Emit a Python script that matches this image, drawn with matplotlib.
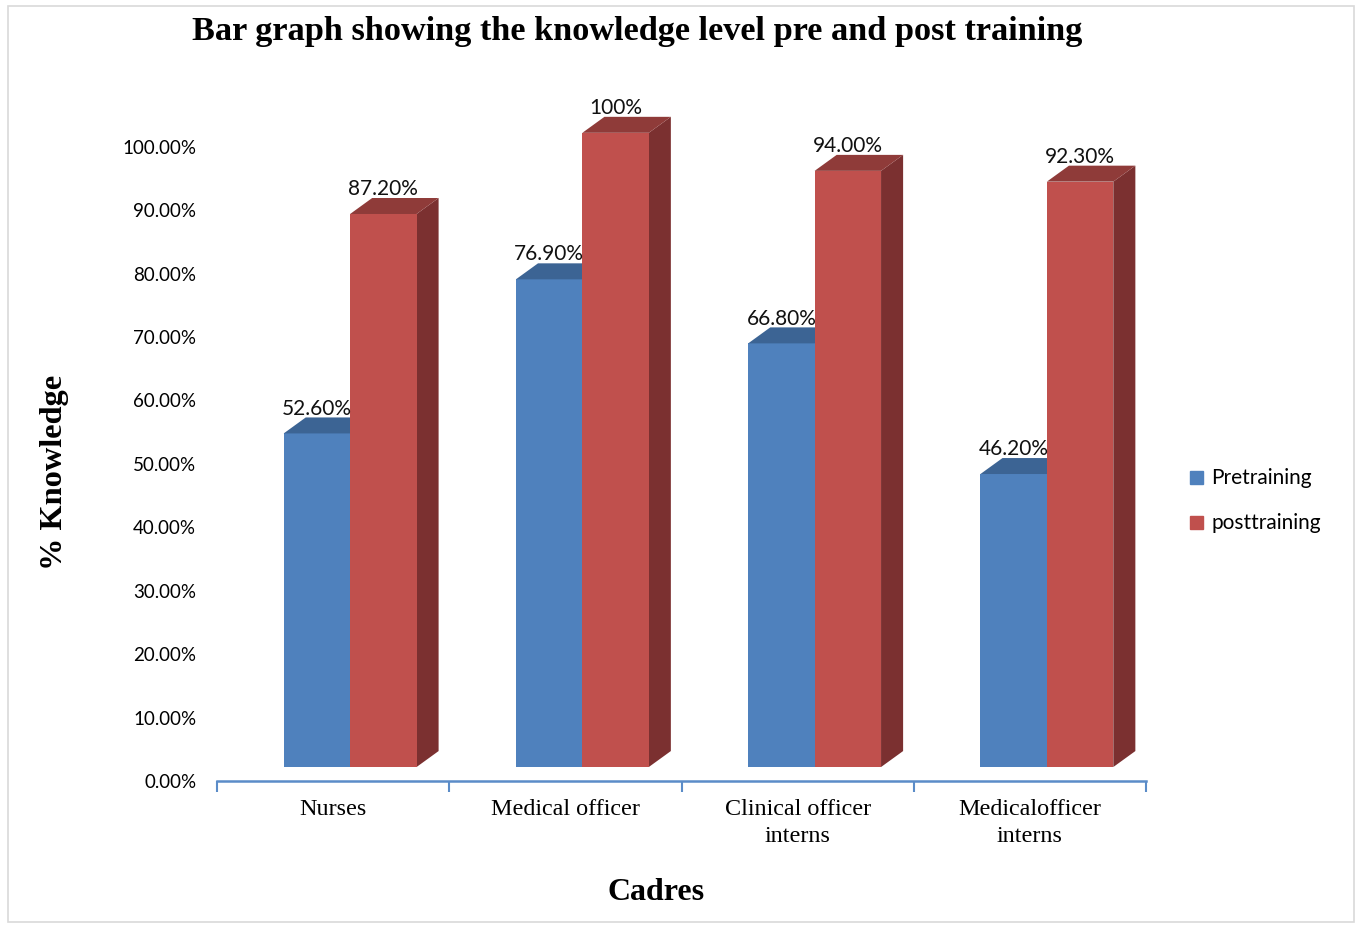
import matplotlib.pyplot as plt
from matplotlib.patches import Polygon, Rectangle
import numpy as np

cadres = ['Nurses', 'Medical officer', 'Clinical officer\ninterns', 'Medicalofficer\ninterns']
pre = [52.6, 76.9, 66.8, 46.2]
post = [87.2, 100.0, 94.0, 92.3]
pre_labels = ['52.60%', '76.90%', '66.80%', '46.20%']
post_labels = ['87.20%', '100%', '94.00%', '92.30%']
yticks = np.arange(0, 101, 10)

blue, blue_top = '#4F81BD', '#3C6494'
red, red_top, red_side = '#C0504D', '#8F3B39', '#7B3030'
serif = 'Liberation Serif'
sans = ['Lato', 'DejaVu Sans']

fig = plt.figure(figsize=(13.59, 9.26), dpi=100)
fig.patches.append(Rectangle((0.006, 0.004), 0.99, 0.99, transform=fig.transFigure,
                             fill=False, edgecolor='#D9D9D9', linewidth=1.2))
ax = fig.add_axes([0.1597, 0.1566, 0.6836, 0.7397])

w = 0.286      # bar width
shift = 0.073  # pair offset right of category centre
dx, dy = 0.095, 2.52   # 3d depth
lift = 2.2     # front face sits above the floor line
x = np.arange(len(cadres))

def box(x0, val, front, top, side):
    y0, y1 = lift, lift + val
    x1 = x0 + w
    ax.add_patch(Polygon([(x1, y0), (x1 + dx, y0 + dy), (x1 + dx, y1 + dy), (x1, y1)],
                         closed=True, facecolor=side, edgecolor='none', zorder=2))
    ax.bar(x0, val, width=w, bottom=y0, align='edge', color=front, zorder=3)
    ax.add_patch(Polygon([(x0, y1), (x0 + dx, y1 + dy), (x1 + dx, y1 + dy), (x1, y1)],
                         closed=True, facecolor=top, edgecolor='none', zorder=3))

for i in x:
    xb = i + shift - w
    xr = i + shift
    box(xb, pre[i], blue, blue_top, blue)
    box(xr, post[i], red, red_top, red_side)
    ax.text(xb + w / 2, lift + pre[i] + dy + 1.4, pre_labels[i], ha='center', va='center',
            fontsize=15, family=sans, color='#111111', zorder=5)
    ax.text(xr + w / 2, lift + post[i] + dy + 1.4, post_labels[i], ha='center', va='center',
            fontsize=15, family=sans, color='#111111', zorder=5)

ax.set_xlim(-0.5, 3.5)
ax.set_ylim(0, 108)
ax.set_yticks(yticks)
ax.set_yticklabels(['%.2f%%' % v for v in yticks], family=sans, fontsize=13.5)
ax.tick_params(axis='y', length=0, pad=15)
ax.set_xticks(x)
ax.set_xticklabels(cadres, family=serif, fontsize=17.4, linespacing=1.4)
ax.set_xticks(np.arange(-0.5, 3.6, 1), minor=True)
ax.tick_params(axis='x', which='major', length=0, pad=13)
ax.tick_params(axis='x', which='minor', length=8, width=1.5, color='#5B8CC8', direction='out')
for s in ['top', 'right', 'left']:
    ax.spines[s].set_visible(False)
ax.spines['bottom'].set_color('#5B8CC8')
ax.spines['bottom'].set_linewidth(1.8)

ax.set_ylabel('% Knowledge', family=serif, fontsize=23.3, fontweight='bold')
ax.yaxis.set_label_coords(-0.159, 0.451)
ax.set_xlabel('Cadres', family=serif, fontsize=23, fontweight='bold')
ax.xaxis.set_label_coords(0.4725, -0.142)
fig.text(0.469, 0.966, 'Bar graph showing the knowledge level pre and post training',
         ha='center', va='center', family=serif, fontsize=24.7, fontweight='bold')

handles = [Rectangle((0, 0), 1, 1, color=blue), Rectangle((0, 0), 1, 1, color=red)]
fig.legend(handles, ['Pretraining', 'posttraining'], loc='center left',
           bbox_to_anchor=(0.862, 0.459), frameon=False, prop={'family': sans, 'size': 15},
           handlelength=0.6, handleheight=0.6, handletextpad=0.4, labelspacing=1.2)

fig.savefig('out.png', dpi=100)
